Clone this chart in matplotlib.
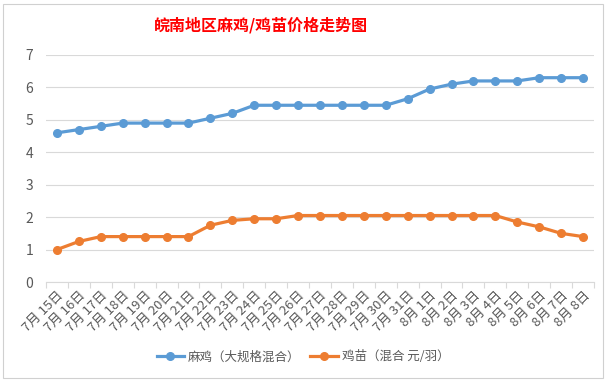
import matplotlib
matplotlib.use('Agg')
import matplotlib.pyplot as plt
from matplotlib.patches import Rectangle
from matplotlib.ticker import FixedLocator

plt.rcParams['font.family'] = ['Noto Sans CJK SC', 'DejaVu Sans']

# data
dates = ['7月 15日', '7月 16日', '7月 17日', '7月 18日', '7月 19日', '7月 20日', '7月 21日',
         '7月 22日', '7月 23日', '7月 24日', '7月 25日', '7月 26日', '7月 27日', '7月 28日',
         '7月 29日', '7月 30日', '7月 31日', '8月 1日', '8月 2日', '8月 3日', '8月 4日',
         '8月 5日', '8月 6日', '8月 7日', '8月 8日']
maji = [4.6, 4.7, 4.8, 4.9, 4.9, 4.9, 4.9, 5.05, 5.2, 5.45, 5.45, 5.45, 5.45,
        5.45, 5.45, 5.45, 5.65, 5.95, 6.1, 6.2, 6.2, 6.2, 6.3, 6.3, 6.3]
jimiao = [1.0, 1.25, 1.4, 1.4, 1.4, 1.4, 1.4, 1.75, 1.9, 1.95, 1.95, 2.05, 2.05,
          2.05, 2.05, 2.05, 2.05, 2.05, 2.05, 2.05, 2.05, 1.85, 1.7, 1.5, 1.4]
label_maji = '麻鸡（大规格混合）'
label_jimiao = '鸡苗（混合 元/羽）'
title = '皖南地区麻鸡/鸡苗价格走势图'

W, H = 611, 381
fig = plt.figure(figsize=(W / 100, H / 100), dpi=100)
fig.patch.set_facecolor('white')

# chart border like the Excel chart area
fig.patches.append(Rectangle((3 / W, 1 - 378 / H), 600 / W, 374 / H,
                             transform=fig.transFigure, fill=False,
                             edgecolor='#D0D0D0', lw=0.8))

ax = fig.add_axes([46 / W, 1 - 282 / H, 548 / W, 227 / H])
x = list(range(len(dates)))
blue = '#5B9BD5'
orange = '#ED7D31'
ax.plot(x, maji, color=blue, lw=2.3, marker='o', ms=5.5, label=label_maji)
ax.plot(x, jimiao, color=orange, lw=2.3, marker='o', ms=5.5, label=label_jimiao)

ax.set_xlim(-0.5, len(dates) - 0.5)
ax.set_ylim(0, 7)
ax.set_yticks(range(0, 8))
ax.yaxis.grid(True, color='#D9D9D9', lw=0.8)
ax.set_axisbelow(True)
for s in ['top', 'right', 'left']:
    ax.spines[s].set_visible(False)
ax.spines['bottom'].set_color('#D9D9D9')
ax.spines['bottom'].set_linewidth(0.8)

ax.set_xticks(x)
ax.set_xticklabels(dates, rotation=45, ha='right', va='top',
                   rotation_mode='anchor', fontsize=9.5, color='#595959')
ax.xaxis.set_minor_locator(FixedLocator([i - 0.5 for i in range(len(dates) + 1)]))
ax.tick_params(axis='x', which='major', length=0, pad=5)
ax.tick_params(axis='x', which='minor', length=4, color='#D9D9D9', width=0.8)
ax.tick_params(axis='y', length=0, pad=9, labelsize=10, labelcolor='#595959')

fig.text(261 / W, 1 - 25 / H, title, color='red', fontsize=11.5,
         fontweight='bold', ha='center', va='center')

fig.legend(loc='center', bbox_to_anchor=(303 / W, 1 - 357 / H), ncol=2,
           frameon=False, fontsize=9, labelcolor='#595959',
           handlelength=2.2, columnspacing=0.8, handletextpad=0.3)

fig.savefig('out.png', dpi=100)
